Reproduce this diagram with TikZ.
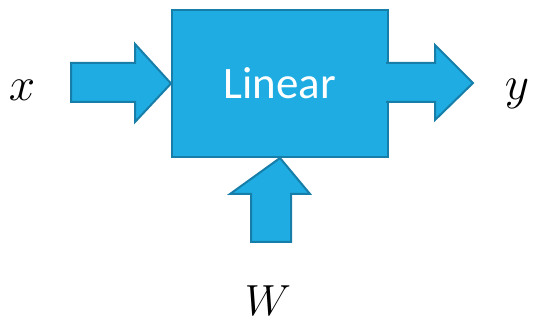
\documentclass[tikz,border=0pt]{standalone}
\usepackage{fontspec}
\usepackage{graphicx}
\newfontfamily\carlito{Carlito}
\definecolor{boxfill}{RGB}{30,172,226}
\definecolor{boxline}{RGB}{22,126,168}
\begin{document}
\begin{tikzpicture}[x=1pt,y=-1pt,
  shapestyle/.style={fill=boxfill,draw=boxline,line width=2pt,line join=miter},
  mathlabel/.style={inner sep=0pt}]
\useasboundingbox (0,0) rectangle (533,323);
% main box
\node[shapestyle,minimum width=216pt,minimum height=147pt,inner sep=0pt,anchor=north west] (lin) at (171,9) {};
\node[text=white,font=\carlito\fontsize{45}{45}\selectfont,inner sep=0pt] (lintext) at (280,83) {Linear};
% left arrow
\draw[shapestyle] (71,63) -- (135,63) -- (135,44) -- (lin.west) -- (135,122) -- (135,102) -- (71,102) -- cycle;
% right arrow
\fill[boxfill] (386,63) -- (435,63) -- (435,45) -- (473,83) -- (435,120) -- (435,102) -- (386,102) -- cycle;
\draw[shapestyle,fill=none] (386,63) -- (435,63) -- (435,45) -- (473,83) -- (435,120) -- (435,102) -- (386,102);
% bottom arrow
\draw[shapestyle] (251,242) -- (251,194) -- (230,194) -- (lin.south) -- (310,194) -- (291,194) -- (291,242) -- cycle;
% labels
\node[mathlabel] (xl) at (22,90) {\scalebox{1.9}{\Huge$x$}};
\node[mathlabel] (yl) at (517,94) {\scalebox{1.9}{\Huge$y$}};
\node[mathlabel] (wl) at (268,301) {\scalebox{1.75}{\Huge$W$}};
\end{tikzpicture}
\end{document}
